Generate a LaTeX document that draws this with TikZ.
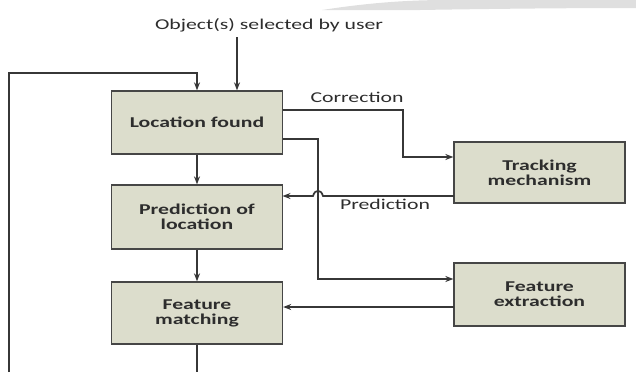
\documentclass[tikz,border=0pt]{standalone}
\usepackage{fontspec}
\setmainfont[FakeStretch=1.45]{Carlito}
\usetikzlibrary{arrows.meta}
\definecolor{boxfill}{RGB}{220,221,204}
\definecolor{boxline}{RGB}{70,70,70}
\definecolor{wire}{RGB}{55,55,55}
\definecolor{txt}{RGB}{45,45,45}
\tikzset{
  procbox/.style={draw=boxline, line width=1.3pt, fill=boxfill, minimum width=171pt,
    align=center, font=\fontsize{15}{15}\selectfont\bfseries, text=txt, inner sep=0pt},
  flow/.style={draw=wire, line width=1.7pt, -{Stealth[length=8pt,width=6pt]}},
  plainwire/.style={draw=wire, line width=1.7pt},
  lbl/.style={font=\fontsize{15}{17}\selectfont, text=txt, inner sep=1pt}
}
\begin{document}
\begin{tikzpicture}[x=1pt, y=-1pt]
  \useasboundingbox (0,0) rectangle (636,372);
  % faint swoosh along the top edge
  \fill[gray!25] (322,10) .. controls (380,1) and (420,0) .. (450,0) -- (636,0) -- (636,8)
    .. controls (560,8) and (480,9) .. (420,10) -- cycle;

  % processing blocks
  \node[procbox, minimum height=63pt] (lf) at (197,122.5) {Location found};
  \node[procbox, minimum height=64pt] (pl) at (197,217) {Prediction of\\location};
  \node[procbox, minimum height=62pt] (fm) at (197,313) {Feature\\matching};
  \node[procbox, minimum height=61pt] (tm) at (539.5,172.5) {Tracking\\mechanism};
  \node[procbox, minimum height=63pt] (fe) at (539.5,294.5) {Feature\\extraction};

  % input from the user
  \node[lbl] (user) at (269,25) {Object(s) selected by user};
  \coordinate (userstart) at (237,37);
  \draw[flow] (userstart) -- (userstart |- lf.north);

  % feedback loop around the left side
  \coordinate (loopbot) at (197,372);
  \coordinate (leftbot) at (9,372);
  \coordinate (lefttop) at (9,73);
  \coordinate (looptop) at (197,73);
  \draw[plainwire] (fm.south) -- (loopbot);
  \draw[flow] (leftbot) -- (lefttop) -- (looptop) -- (lf.north);

  % vertical chain
  \draw[flow] (lf.south) -- (pl.north);
  \draw[flow] (pl.south) -- (fm.north);

  % correction path to the tracker
  \coordinate (corrA) at (282.5,110);
  \coordinate (corrB) at (403,110);
  \coordinate (corrC) at (403,157);
  \draw[flow] (corrA) -- (corrB) -- (corrC) -- (corrC -| tm.west);
  \node[lbl] (corr) at (357,97) {Correction};

  % path to feature extraction
  \coordinate (featA) at (282.5,139);
  \coordinate (featB) at (318,139);
  \coordinate (featC) at (318,279);
  \draw[flow] (featA) -- (featB) -- (featC) -- (featC -| fe.west);

  % prediction back from the tracker, hopping over the vertical wire
  \coordinate (predA) at (454,196);
  \coordinate (hopR) at (323,196);
  \coordinate (hopL) at (313,196);
  \coordinate (predEnd) at (282.5,196);
  \draw[flow] (predA) -- (hopR) .. controls (321,189) and (315,189) .. (hopL) -- (predEnd);
  \node[lbl] (pred) at (385,204) {Prediction};

  % matched features
  \coordinate (fmA) at (454,307);
  \draw[flow] (fmA) -- (fmA -| fm.east);
\end{tikzpicture}
\end{document}
